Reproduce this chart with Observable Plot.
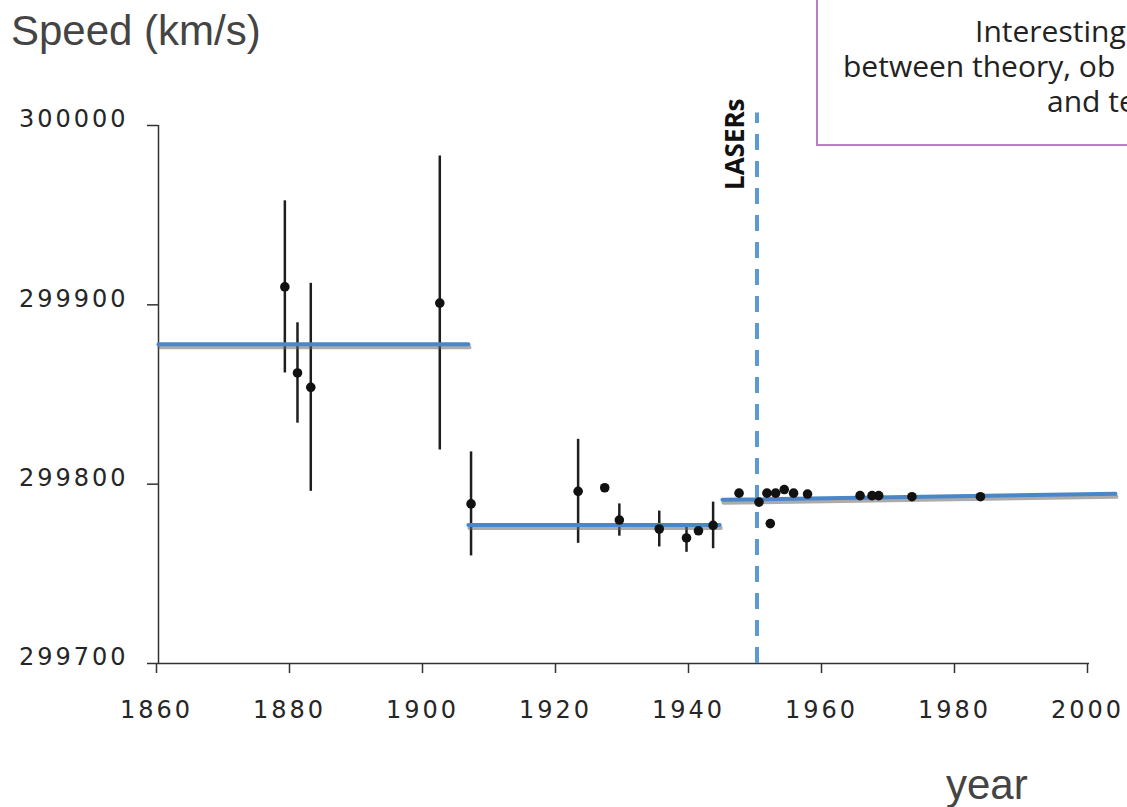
<!DOCTYPE html>
<html>
<head>
<meta charset="utf-8">
<script src="https://cdn.jsdelivr.net/npm/d3@7"></script>
<script src="https://cdn.jsdelivr.net/npm/@observablehq/plot@0.6"></script>
<style>
  html, body { margin: 0; padding: 0; background: #fff; overflow: hidden; }
  #wrap { position: relative; width: 1127px; height: 807px; overflow: hidden; }
  #chart { position: absolute; left: 0; top: 0; }
  .ylabel { position: absolute; left: 11px; top: 10px; font: 42px "Liberation Sans", Arial, sans-serif; line-height: 1; color: #444; white-space: nowrap; }
  .xlabel { position: absolute; left: 946px; top: 764px; font: 42px "Liberation Sans", Arial, sans-serif; line-height: 1; color: #444; white-space: nowrap; }
  .note { position: absolute; left: 816px; top: -6px; width: 420px; height: 152px; border: 2px solid #b97fc6; background: #fff; box-sizing: border-box; }
  .note div { position: absolute; display: block; font: 30px "Open Sans", sans-serif; line-height: 34px; height: 34px; color: #222; white-space: nowrap; }
  g[aria-label="x-axis tick label"] text, g[aria-label="y-axis tick label"] text { letter-spacing: 3px; font-family: "DejaVu Sans", sans-serif; fill: #262626; }
</style>
</head>
<body>
<div id="wrap">
  <div id="chart"></div>
  <div class="ylabel">Speed (km/s)</div>
  <div class="xlabel">year</div>
  <div class="note">
    <div style="left:157px; top:18px;">Interesting</div>
    <div style="left:25px; top:53px;">between theory, ob</div>
    <div style="left:229px; top:88px;">and te</div>
  </div>
</div>
<script>
// Measurements of the speed of light (km/s) with error bars
const years  = [1879, 1880.9, 1882.9, 1902.3, 1907, 1923.1, 1927.1, 1929.3, 1935.3, 1939.4, 1941.2, 1943.4,
                1947.3, 1950.3, 1951.5, 1952.0, 1952.8, 1954.1, 1955.5, 1957.6, 1965.5, 1967.3, 1968.3, 1973.3, 1983.6];
const speeds = [299910, 299862, 299854, 299901, 299789, 299796, 299798, 299780, 299775, 299770, 299774, 299777,
                299795, 299790, 299795, 299778, 299795, 299797, 299795, 299794.5, 299793.6, 299793.6, 299793.6, 299793, 299793];
const errors = [48, 28, 58, 82, 29, 29, 0, 9, 10, 8, 0, 13,
                0, 0, 0, 0, 0, 0, 0, 0, 0, 0, 0, 0, 0];

// Fitted era averages (segments)
const fitSegment = ["pre-1907", "pre-1907", "1907-1944", "1907-1944", "post-1944", "post-1944"];
const fitYear    = [1860, 1906.6, 1906.6, 1944.4, 1944.8, 2003.9];
const fitSpeed   = [299878, 299878, 299777.3, 299777.3, 299791.3, 299794.6];

// Annotation
const laserYear = 1950;
const laserTop = 300007;
const laserLabel = "LASERs";
const laserLabelY = 299964;

// Axis ticks
const xTicks = [1860, 1880, 1900, 1920, 1940, 1960, 1980, 2000];
const yTicks = [299700, 299800, 299900, 300000];

const points = years.map((y, i) => ({year: y, speed: speeds[i], lo: speeds[i] - errors[i], hi: speeds[i] + errors[i], err: errors[i]}));
const fits = fitYear.map((y, i) => ({seg: fitSegment[i], year: y, speed: fitSpeed[i]}));

const chart = Plot.plot({
  width: 1127,
  height: 807,
  marginLeft: 158,
  marginRight: 38,
  marginTop: 125,
  marginBottom: 144,
  style: {fontFamily: "DejaVu Sans, sans-serif", background: "#fff"},
  x: {domain: [1860, 2000]},
  y: {domain: [299700, 300000]},
  marks: [
    // x axis: ticks + labels
    Plot.axisX({ticks: xTicks, tickFormat: d => String(d), tickSize: 10, tickPadding: 27, fontSize: 24, dx: -2, stroke: "#333", strokeWidth: 1.5, label: null}),
    // y axis ticks (no text) and labels (raised slightly)
    Plot.axisY({ticks: yTicks, tickFormat: () => "", tickSize: 11, stroke: "#333", strokeWidth: 1.5, label: null}),
    Plot.axisY({ticks: yTicks, tickFormat: d => String(d), tickSize: 0, tickPadding: 30, fontSize: 24, dy: -6, label: null}),
    Plot.ruleX([1860], {y1: 299700, y2: 300000, stroke: "#333", strokeWidth: 1.5}),
    Plot.ruleY([299700], {x1: 1860, x2: 2000, stroke: "#333", strokeWidth: 1.5}),
    // error bars
    Plot.ruleX(points.filter(d => d.err > 0), {x: "year", y1: "lo", y2: "hi", stroke: "#1e1e1e", strokeWidth: 2.5}),
    // shadow of fitted lines
    Plot.line(fits, {x: "year", y: "speed", z: "seg", stroke: "#666", strokeWidth: 4, strokeOpacity: 0.55, dy: 3, dx: 1}),
    // fitted lines
    Plot.line(fits, {x: "year", y: "speed", z: "seg", stroke: "#4a86c8", strokeWidth: 4}),
    // LASER line
    Plot.ruleX([laserYear], {y1: 299700, y2: laserTop, stroke: "#5b9bd5", strokeWidth: 4, strokeDasharray: "16,11"}),
    Plot.text([laserLabel], {x: laserYear, y: laserLabelY, text: d => d, rotate: -90, textAnchor: "start", dx: -21, fontSize: 26, fontWeight: "bold", fontFamily: "Open Sans, sans-serif", fill: "#111"}),
    // points
    Plot.dot(points, {x: "year", y: "speed", symbol: "circle", r: 4.8, fill: "#111"})
  ]
});
document.getElementById("chart").appendChild(chart);
</script>
</body>
</html>
